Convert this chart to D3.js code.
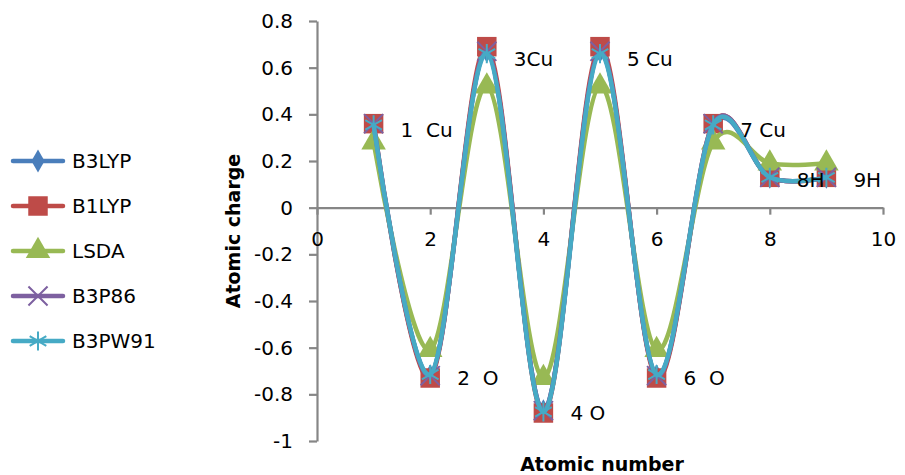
<!DOCTYPE html>
<html><head><meta charset="utf-8">
<script src="https://cdn.jsdelivr.net/npm/d3@7"></script>
<style>
body{margin:0;background:#fff;}
text{font-family:"DejaVu Sans",Verdana,sans-serif;}
</style></head>
<body><svg id="c" width="905" height="475"></svg>
<script>
const atomicNumbers = [1,2,3,4,5,6,7,8,9];
const seriesNames = ["B3LYP","B1LYP","LSDA","B3P86","B3PW91"];
const b3lyp  = [0.35,-0.72,0.67,-0.87,0.67,-0.72,0.35,0.13,0.13];
const b1lyp  = [0.36,-0.73,0.69,-0.88,0.69,-0.73,0.36,0.13,0.13];
const lsda   = [0.28,-0.61,0.52,-0.73,0.52,-0.61,0.28,0.19,0.19];
const b3p86  = [0.36,-0.72,0.67,-0.87,0.67,-0.72,0.36,0.13,0.13];
const b3pw91 = [0.355,-0.715,0.66,-0.875,0.66,-0.715,0.355,0.13,0.13];
const pointLabels = ["1  Cu","2  O","3Cu","4 O","5 Cu","6  O","7 Cu","8H","9H"];
const xTicks = [0,2,4,6,8,10];
const yTicks = [0.8,0.6,0.4,0.2,0,-0.2,-0.4,-0.6,-0.8,-1];
const colors = ["#4A7EBB","#BE4B48","#98B954","#7D60A0","#46AAC5"];
const symbols = [d3.symbolDiamond,d3.symbolSquare,d3.symbolTriangle,d3.symbolX,d3.symbolAsterisk];
const symSizes = [150,380,260,240,260];
const allSeries = [b3lyp,b1lyp,lsda,b3p86,b3pw91];

const svg = d3.select("#c");
const x = d3.scaleLinear().domain([0,10]).range([317,883]);
const y = d3.scaleLinear().domain([-1,0.8]).range([441,21]);
const fs = 20;
const axisColor = "#868686";

// y axis
const ya = svg.append("g").attr("transform",`translate(${x(0)},0)`)
  .call(d3.axisLeft(y).tickValues(yTicks).tickSize(8).tickSizeOuter(0).tickPadding(16)
    .tickFormat(d=> d===0?"0":String(+d.toFixed(1))));
// x axis
const xa = svg.append("g").attr("transform",`translate(0,${y(0)})`)
  .call(d3.axisBottom(x).tickValues(xTicks).tickSize(7).tickSizeOuter(0).tickPadding(17)
    .tickFormat(d=>String(d)));
[ya,xa].forEach(g=>{
  g.select(".domain").attr("stroke",axisColor).attr("stroke-width",2.2);
  g.selectAll(".tick line").attr("stroke",axisColor).attr("stroke-width",2.2);
  g.selectAll(".tick text").attr("font-size",fs).attr("fill","#000")
    .attr("font-family","'DejaVu Sans',Verdana,sans-serif");
});

// axis titles
svg.append("text").attr("transform",`translate(240,${(21+441)/2}) rotate(-90)`)
  .attr("text-anchor","middle").attr("font-size",19).attr("font-weight","bold").text("Atomic charge");
svg.append("text").attr("x",602).attr("y",471).attr("text-anchor","middle")
  .attr("font-size",19).attr("font-weight","bold").text("Atomic number");

const line = d3.line().x((d,i)=>x(atomicNumbers[i])).y(d=>y(d)).curve(d3.curveCardinal.tension(0));

allSeries.forEach((s,k)=>{
  const g = svg.append("g");
  g.append("path").attr("d",line(s)).attr("fill","none").attr("stroke",colors[k])
    .attr("stroke-width",4.5).attr("stroke-linecap","round").attr("stroke-linejoin","round");
  const stroked = k>=3;
  g.selectAll("path.m").data(s).join("path").attr("class","m")
    .attr("transform",(d,i)=>`translate(${x(atomicNumbers[i])},${y(d)})`)
    .attr("d",d3.symbol().type(symbols[k]).size(symSizes[k]))
    .attr("fill",stroked?"none":colors[k]).attr("stroke",stroked?colors[k]:"none")
    .attr("stroke-width",2);
});

// point labels
svg.append("g").selectAll("text").data(pointLabels).join("text")
  .attr("x",(d,i)=>x(atomicNumbers[i])+27)
  .attr("y",(d,i)=>y(b1lyp[i]) + Math.max(0,b1lyp[i])*18)
  .attr("dy","0.36em").attr("font-size",fs).style("white-space","pre").text(d=>d);

// legend
const lg = svg.append("g");
seriesNames.forEach((n,k)=>{
  const yy = 161 + k*45;
  lg.append("line").attr("x1",13).attr("x2",63).attr("y1",yy).attr("y2",yy)
    .attr("stroke",colors[k]).attr("stroke-width",4.5).attr("stroke-linecap","round");
  const stroked = k>=3;
  lg.append("path").attr("transform",`translate(38,${yy})`)
    .attr("d",d3.symbol().type(symbols[k]).size(symSizes[k]))
    .attr("fill",stroked?"none":colors[k]).attr("stroke",stroked?colors[k]:"none").attr("stroke-width",2);
  lg.append("text").attr("x",72).attr("y",yy).attr("dy","0.36em").attr("font-size",fs).text(n);
});
</script></body></html>
